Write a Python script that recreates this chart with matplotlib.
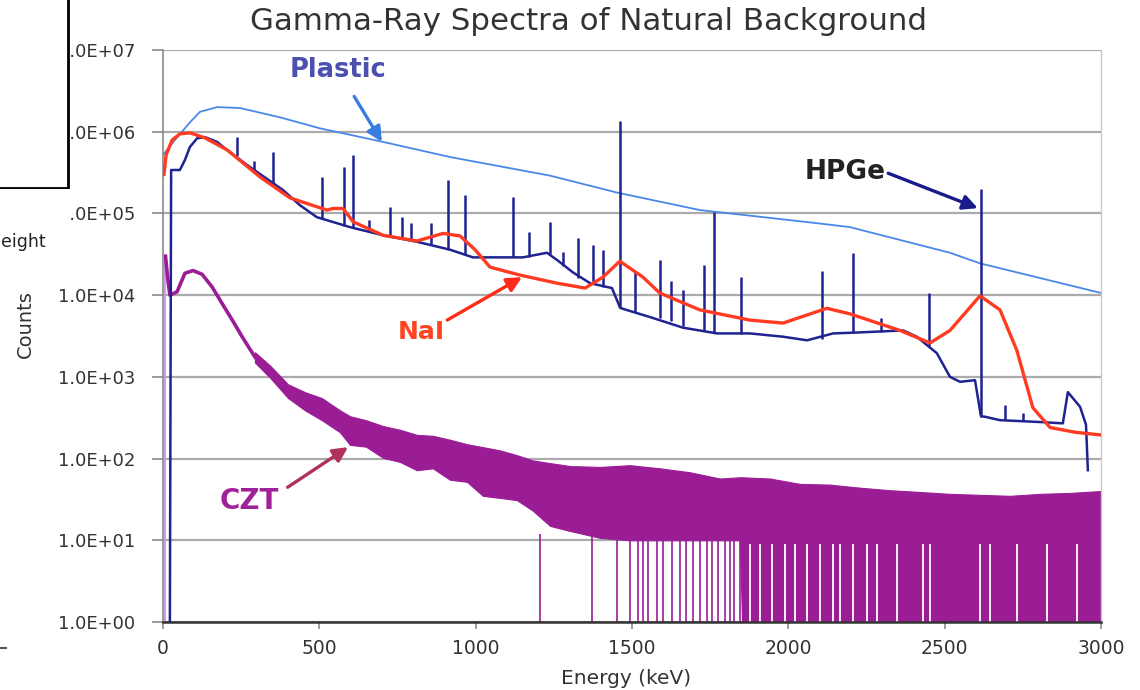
import numpy as np
import matplotlib
matplotlib.use("Agg")
import matplotlib.pyplot as plt
from matplotlib.patches import Rectangle
from matplotlib.lines import Line2D
from matplotlib.ticker import FixedLocator, FuncFormatter, NullLocator

# ---------------- data ----------------
plastic_E = [0, 38, 86, 118, 173, 246, 374, 502, 704, 918, 1238, 1452, 1717, 2091, 2197, 2517, 2613, 2997]
plastic_counts = [5.2e5, 7.9e5, 1.3e6, 1.75e6, 2.0e6, 1.95e6, 1.5e6, 1.1e6, 7.5e5, 4.9e5, 2.9e5, 1.8e5,
                  1.1e5, 7.6e4, 6.8e4, 3.3e4, 2.45e4, 1.07e4]

nai_E = [3, 10, 29, 54, 86, 134, 205, 310, 406, 524, 544, 576, 608, 704, 812, 896, 950, 998, 1046, 1142,
         1260, 1350, 1407, 1461, 1535, 1589, 1717, 1877, 1983, 2123, 2197, 2357, 2453, 2517, 2613, 2677,
         2731, 2782, 2837, 2917, 2997]
nai_counts = [3.0e5, 5.2e5, 7.9e5, 9.4e5, 9.7e5, 8.4e5, 6.0e5, 2.8e5, 1.55e5, 1.1e5, 1.15e5, 1.15e5, 7.9e4,
              5.4e4, 4.6e4, 5.7e4, 5.3e4, 3.6e4, 2.2e4, 1.76e4, 1.4e4, 1.22e4, 1.66e4, 2.6e4, 1.66e4,
              1.06e4, 6.6e3, 4.95e3, 4.55e3, 6.9e3, 5.9e3, 3.7e3, 2.6e3, 3.7e3, 9.8e3, 6.6e3, 2.1e3,
              4.2e2, 2.4e2, 2.1e2, 1.95e2]

hpge_E = [22, 26, 54, 70, 86, 109, 134, 173, 214, 278, 384, 438, 492, 598, 704, 812, 918, 991, 1046, 1151,
          1228, 1260, 1311, 1366, 1436, 1462, 1471, 1557, 1663, 1772, 1877, 1983, 2060, 2143, 2229, 2367,
          2411, 2443, 2475, 2517, 2549, 2597, 2616, 2629, 2677, 2805, 2878, 2894, 2933, 2952, 2958]
hpge_counts = [1, 3.4e5, 3.4e5, 4.5e5, 6.5e5, 8.3e5, 8.6e5, 7.5e5, 5.6e5, 3.7e5, 1.93e5, 1.26e5, 9.0e4,
               6.8e4, 5.4e4, 4.5e4, 3.6e4, 2.9e4, 2.9e4, 2.9e4, 3.3e4, 2.7e4, 1.9e4, 1.4e4, 1.22e4, 7.0e3,
               6.8e3, 5.4e3, 4.0e3, 3.4e3, 3.4e3, 3.1e3, 2.8e3, 3.4e3, 3.5e3, 3.7e3, 3.1e3, 2.45e3, 1.95e3,
               1.0e3, 870, 910, 330, 325, 295, 280, 270, 650, 430, 260, 72]

# HPGe photopeaks: energy, base counts, top counts
peak_E = [237, 291, 352, 508, 579, 608, 659, 726, 764, 793, 857, 911, 966, 1119, 1170, 1238, 1279, 1327,
          1375, 1407, 1461, 1510, 1589, 1625, 1663, 1730, 1762, 1848, 2107, 2207, 2296, 2450, 2616, 2693, 2750]
peak_base = [5.0e5, 3.3e5, 2.2e5, 8.5e4, 7.0e4, 6.8e4, 5.9e4, 5.3e4, 5.0e4, 4.7e4, 4.2e4, 3.6e4, 3.2e4,
             2.9e4, 2.9e4, 3.2e4, 2.3e4, 1.6e4, 1.35e4, 1.25e4, 7.0e3, 6.2e3, 5.2e3, 4.8e3, 4.2e3, 3.6e3,
             3.4e3, 3.3e3, 2.9e3, 3.4e3, 3.5e3, 2.4e3, 325, 295, 290]
peak_top = [8.6e5, 4.4e5, 5.6e5, 2.8e5, 3.7e5, 5.2e5, 8.3e4, 1.2e5, 9.0e4, 7.6e4, 7.6e4, 2.6e5, 1.7e5,
            1.6e5, 5.9e4, 7.9e4, 3.4e4, 5.0e4, 4.1e4, 3.6e4, 1.35e6, 2.0e4, 2.7e4, 1.5e4, 1.15e4, 2.35e4,
            1.04e5, 1.66e4, 2.0e4, 3.3e4, 5.2e3, 1.07e4, 2.0e5, 450, 365]

# CZT: low-energy smooth part
czt_E = [8, 15, 22, 45, 70, 96, 125, 157, 189, 221, 253, 294, 336, 400]
czt_counts = [3.0e4, 1.6e4, 1.0e4, 1.1e4, 1.85e4, 2.0e4, 1.8e4, 1.26e4, 7.9e3, 5.0e3, 3.1e3, 1.75e3,
              1.1e3, 690]
# CZT: noisy band (upper / lower envelope)
czt_band_E = [294, 342, 400, 454, 508, 566, 598, 649, 704, 758, 812, 863, 918, 972, 1023, 1078, 1132, 1183,
              1238, 1302, 1398, 1493, 1589, 1685, 1781, 1845, 1852, 1941, 2037, 2133, 2229, 2325, 2421,
              2517, 2613, 2709, 2805, 2901, 2997]
czt_band_upper = [2.0e3, 1.38e3, 810, 650, 550, 390, 330, 295, 250, 225, 195, 190, 170, 150, 138, 126, 110,
                  95, 88, 81, 79, 83, 76, 68, 57, 59, 59, 57, 49, 48, 44, 41, 39, 37, 36, 35, 37, 38, 40]
czt_band_lower = [1.5e3, 980, 550, 390, 295, 210, 147, 140, 102, 91, 72, 76, 55, 52, 35, 33, 31, 23, 15, 13,
                  10.7, 10, 10, 10, 10, 10, 1, 1, 1, 1, 1, 1, 1, 1, 1, 1, 1, 1, 1]
# CZT: empty channels (drop to the axis floor) and non-empty gaps in the dense zone
czt_dropout_E = [1206, 1372, 1452, 1493, 1519, 1535, 1551, 1580, 1599, 1628, 1653, 1673, 1695, 1717, 1740,
                 1756, 1775, 1797, 1813, 1826, 1845]
czt_gap_E = [1877, 1909, 1948, 1989, 2021, 2060, 2101, 2143, 2165, 2207, 2251, 2283, 2347, 2430, 2453, 2613,
             2645, 2731, 2827, 2923]

x_ticks = [0, 500, 1000, 1500, 2000, 2500, 3000]
y_ticks = [1e0, 1e1, 1e2, 1e3, 1e4, 1e5, 1e6, 1e7]

# ---------------- figure ----------------
W, H = 1140, 690
fig = plt.figure(figsize=(W / 100, H / 100), dpi=100)
ax = fig.add_axes([163 / W, 68 / H, 938 / W, 572 / H])
ax.set_yscale('log')
ax.set_xlim(0, 3000)
ax.set_ylim(1, 1e7)

c_plastic = '#4a88e8'
c_nai = '#ff3b22'
c_hpge = '#1f2390'
c_czt = '#9b1d96'

# CZT
ax.fill_between(czt_band_E, czt_band_lower, czt_band_upper, color=c_czt, lw=0.8, zorder=2)
ax.vlines(czt_dropout_E, 1, 12, color=c_czt, lw=1.2, zorder=2)
ax.vlines(czt_gap_E, 1, 9, color='white', lw=1.3, zorder=2.1)
ax.plot(czt_E, czt_counts, color=c_czt, lw=2.6, zorder=2.2, solid_joinstyle='round')
ax.vlines([czt_E[0] - 3], 1, czt_counts[0], color='#c9a0e0', lw=1.5, zorder=1.9)

# Plastic
ax.plot(plastic_E, plastic_counts, color=c_plastic, lw=1.3, zorder=3)
# HPGe
ax.plot(hpge_E, hpge_counts, color=c_hpge, lw=1.8, zorder=4)
ax.vlines(peak_E, peak_base, peak_top, color=c_hpge, lw=1.8, zorder=4)
# NaI
ax.plot(nai_E, nai_counts, color=c_nai, lw=2.4, zorder=5, solid_joinstyle='round')

# grid / axes styling
ax.grid(axis='y', which='major', color='#ababab', lw=1.6, zorder=0)
ax.set_axisbelow(True)
ax.yaxis.set_major_locator(FixedLocator(y_ticks))
ax.yaxis.set_minor_locator(NullLocator())
ax.yaxis.set_major_formatter(FuncFormatter(lambda v, p: f"{v:.1E}"))
ax.xaxis.set_major_locator(FixedLocator(x_ticks))
ax.tick_params(axis='y', direction='out', length=8, width=1.2, color='#8a8a8a',
               labelsize=13, labelcolor='#333333', pad=12)
ax.tick_params(axis='x', direction='out', length=5, width=1.2, color='#8a8a8a',
               labelsize=13.5, labelcolor='#333333', pad=7)
ax.spines['top'].set_visible(False)
ax.spines['left'].set_color('#8a8a8a')
ax.spines['left'].set_linewidth(1.2)
ax.spines['right'].set_color('#c8c8c8')
ax.spines['right'].set_linewidth(1.0)
ax.spines['bottom'].set_color('#333333')
ax.spines['bottom'].set_linewidth(1.8)

ax.set_xlabel('Energy (keV)', fontsize=14.5, color='#333333')
ax.xaxis.set_label_coords((626 - 163) / 938, -(678 - 622) / 572)
ax.xaxis.label.set_va('center')
ax.set_ylabel('Counts', fontsize=14, color='#333333')
ax.yaxis.set_label_coords(-(163 - 25) / 938, (622 - 324) / 572)
ax.yaxis.label.set_va('center')

fig.text(588 / W, 1 - 21 / H, 'Gamma-Ray Spectra of Natural Background', ha='center', va='center',
         fontsize=22.2, color='#333333')

# annotations
ax.annotate('Plastic', xy=(700, 7.5e5), xytext=(560, 5.7e6), fontsize=18.5, fontweight='bold',
            color='#4b4fb0', ha='center', va='center', zorder=6,
            arrowprops=dict(arrowstyle='-|>', color='#3a7de0', lw=2.4, mutation_scale=22,
                            shrinkA=9, shrinkB=0))
ax.annotate('HPGe', xy=(2606, 1.16e5), xytext=(2181, 3.2e5), fontsize=19, fontweight='bold',
            color='#222222', ha='center', va='center', zorder=6,
            arrowprops=dict(arrowstyle='-|>', color='#1a1a8c', lw=2.4, mutation_scale=22,
                            shrinkA=0, shrinkB=0, relpos=(1.0, 0.5)))
ax.annotate('NaI', xy=(1148, 1.66e4), xytext=(825, 3.5e3), fontsize=18, fontweight='bold',
            color='#ff4422', ha='center', va='center', zorder=6,
            arrowprops=dict(arrowstyle='-|>', color='#ff2a1a', lw=2.4, mutation_scale=22,
                            shrinkA=0, shrinkB=0, relpos=(1.0, 0.95)))
ax.annotate('CZT', xy=(592, 138), xytext=(275, 30), fontsize=20, fontweight='bold',
            color='#a0209a', ha='center', va='center', zorder=6,
            arrowprops=dict(arrowstyle='-|>', color='#b2305e', lw=2.4, mutation_scale=22,
                            shrinkA=0, shrinkB=0, relpos=(1.15, 1.0)))

# cropped overlay elements at the left edge of the screenshot
fig.add_artist(Rectangle((-10 / W, 1 - 188 / H), 78 / W, 200 / H, transform=fig.transFigure,
                         facecolor='white', edgecolor='black', lw=2, zorder=10))
fig.add_artist(Rectangle((-10 / W, 1 - 228 / H), 80 / W, 39 / H, transform=fig.transFigure,
                         facecolor='white', edgecolor='none', zorder=10))
fig.text(1 / W, 1 - 242 / H, 'eight', fontsize=12.5, color='#222222', ha='left', va='center', zorder=11)
fig.add_artist(Line2D([0, 6 / W], [1 - 648 / H, 1 - 648 / H], transform=fig.transFigure,
                      color='#555555', lw=1.5, zorder=11))

fig.savefig('out.png', dpi=100, facecolor='white')
